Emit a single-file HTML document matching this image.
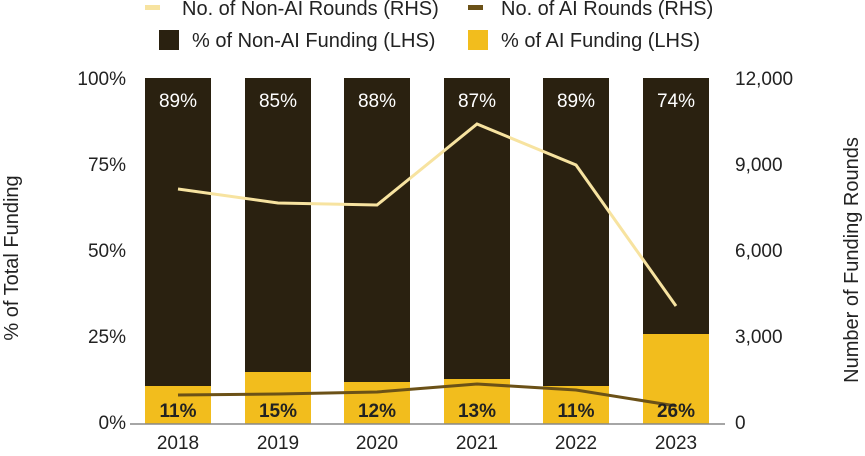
<!DOCTYPE html>
<html><head><style>body{margin:0;background:#fff}</style></head><body>
<svg width="865" height="451" xmlns="http://www.w3.org/2000/svg" font-family="Liberation Sans, sans-serif">
<rect width="865" height="451" fill="#fff"/>
<g font-size="20" fill="#222">
<rect x="145" y="5" width="15" height="5" fill="#f7e3a0"/>
<text x="182" y="15">No. of Non-AI Rounds (RHS)</text>
<rect x="468" y="5" width="15" height="5" fill="#6b5117"/>
<text x="501" y="15">No. of AI Rounds (RHS)</text>
<rect x="159" y="30" width="20" height="20" fill="#2a2110"/>
<text x="192" y="47">% of Non-AI Funding (LHS)</text>
<rect x="468" y="30" width="20" height="20" fill="#f2bd1d"/>
<text x="501" y="47">% of AI Funding (LHS)</text>
</g>
<g font-size="19" fill="#222" text-anchor="end">
<text x="126" y="85">100%</text><text x="126" y="171">75%</text><text x="126" y="257">50%</text><text x="126" y="343">25%</text><text x="126" y="429">0%</text>
</g>
<g font-size="19" fill="#222" text-anchor="start">
<text x="735" y="85">12,000</text><text x="735" y="171">9,000</text><text x="735" y="257">6,000</text><text x="735" y="343">3,000</text><text x="735" y="429">0</text>
</g>
<text transform="translate(18,258) rotate(-90)" font-size="20" fill="#222" text-anchor="middle">% of Total Funding</text>
<text transform="translate(858,260) rotate(-90)" font-size="20" fill="#222" text-anchor="middle">Number of Funding Rounds</text>
<g>
<rect x="145" y="78" width="66" height="346" fill="#2a2110"/><rect x="145" y="386" width="66" height="38" fill="#f2bd1d"/>
<rect x="245" y="78" width="66" height="346" fill="#2a2110"/><rect x="245" y="372" width="66" height="52" fill="#f2bd1d"/>
<rect x="344" y="78" width="66" height="346" fill="#2a2110"/><rect x="344" y="382" width="66" height="42" fill="#f2bd1d"/>
<rect x="444" y="78" width="66" height="346" fill="#2a2110"/><rect x="444" y="379" width="66" height="45" fill="#f2bd1d"/>
<rect x="543" y="78" width="66" height="346" fill="#2a2110"/><rect x="543" y="386" width="66" height="38" fill="#f2bd1d"/>
<rect x="643" y="78" width="66" height="346" fill="#2a2110"/><rect x="643" y="334" width="66" height="90" fill="#f2bd1d"/>
</g>
<line x1="130" y1="424" x2="725" y2="424" stroke="#888" stroke-width="1.5"/>
<polyline points="178,189 278,203 377,205 477,124 576,165 676,306" fill="none" stroke="#f7e3a0" stroke-width="3"/>
<polyline points="178,395 278,394 377,392 477,384 576,390 676,406" fill="none" stroke="#6b5117" stroke-width="3"/>
<g font-size="19" fill="#fff" text-anchor="middle">
<text x="178" y="107">89%</text><text x="278" y="107">85%</text><text x="377" y="107">88%</text><text x="477" y="107">87%</text><text x="576" y="107">89%</text><text x="676" y="107">74%</text>
</g>
<g font-size="19" font-weight="bold" fill="#222" text-anchor="middle">
<text x="178" y="417">11%</text><text x="278" y="417">15%</text><text x="377" y="417">12%</text><text x="477" y="417">13%</text><text x="576" y="417">11%</text><text x="676" y="417">26%</text>
</g>
<g font-size="19" fill="#222" text-anchor="middle">
<text x="178" y="449">2018</text><text x="278" y="449">2019</text><text x="377" y="449">2020</text><text x="477" y="449">2021</text><text x="576" y="449">2022</text><text x="676" y="449">2023</text>
</g>
</svg>
</body></html>
